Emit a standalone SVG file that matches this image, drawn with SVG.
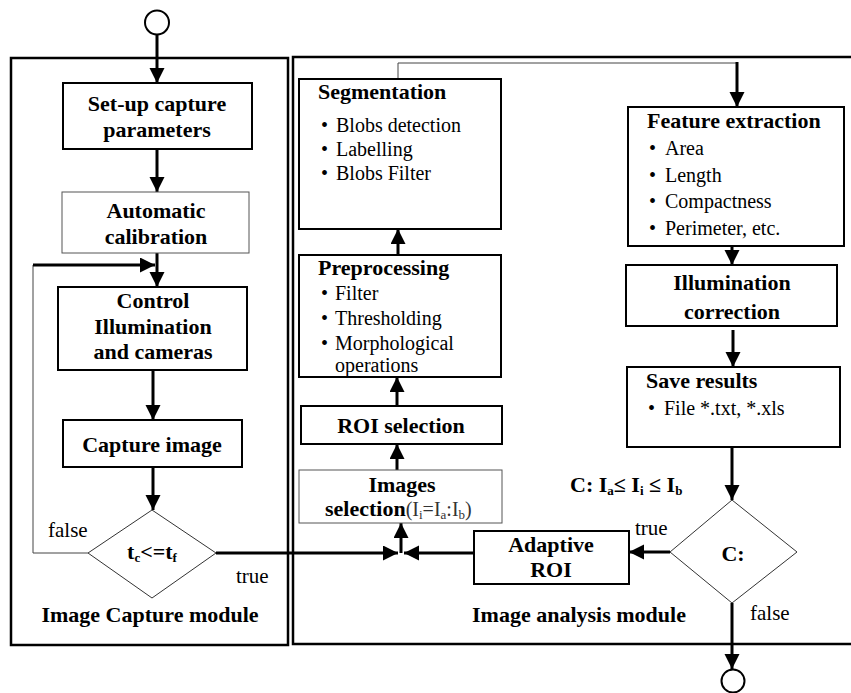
<svg xmlns="http://www.w3.org/2000/svg" width="851" height="693" viewBox="0 0 851 693" font-family="'Liberation Serif', 'Times New Roman', 'DejaVu Serif', serif">
<defs>
<style>
text{font-family:'Liberation Serif','Times New Roman','DejaVu Serif',serif}
.b{font-weight:bold;font-size:22px;fill:#000}
.r{font-size:20px;fill:#000}
.l{font-size:21px;fill:#000}
.c{text-anchor:middle}
.box{fill:#fff;stroke:#000;stroke-width:2}
.thin{fill:#fff;stroke:#555;stroke-width:1}
.mod{fill:none;stroke:#000;stroke-width:2.5}
.dia{fill:#fff;stroke:#333;stroke-width:1}
.ar{fill:none;stroke:#000;stroke-width:3;marker-end:url(#ah)}
.tl{fill:none;stroke:#444;stroke-width:1}
</style>
<marker id="ah" markerUnits="userSpaceOnUse" markerWidth="16" markerHeight="16" refX="15" refY="7.5" orient="auto">
<path d="M0,0 L15,7.5 L0,15 z" fill="#000"/>
</marker>
</defs>
<rect width="851" height="693" fill="#fff"/>

<g id="module-capture">
<rect class="mod" x="11" y="58" width="277" height="587"/>
<text class="b c" x="150" y="622">Image Capture module</text>
</g>
<g id="module-analysis">
<rect class="mod" x="293" y="57" width="580" height="587"/>
<text class="b c" x="579" y="622">Image analysis module</text>
</g>

<g id="connectors">
<path class="ar" d="M157,35 L157,83"/>
<path class="ar" d="M157,149 L157,192"/>
<path class="ar" d="M157,253 L157,287"/>
<path class="tl" d="M88,553 L33,553 L33,265"/>
<path class="ar" d="M33,265 L155,265"/>
<path class="ar" d="M153,370 L153,420"/>
<path class="ar" d="M153,467 L153,510"/>
<path class="ar" d="M216,553 L398,553"/>
<path class="ar" d="M474,553 L404,553"/>
<path class="ar" d="M401,553 L401,523"/>
<path class="ar" d="M397,470 L397,444"/>
<path class="ar" d="M397,406 L397,377"/>
<path class="ar" d="M398,255 L398,229"/>
<path class="tl" d="M398,79 L398,63 L737,63"/>
<path class="ar" d="M737,62 L737,107"/>
<path class="ar" d="M732,238 L732,265"/>
<path class="ar" d="M733,330 L733,367"/>
<path class="ar" d="M732,447 L732,500"/>
<path class="ar" d="M670,552 L629,552"/>
<path class="ar" d="M732,603 L732,669"/>
</g>

<g id="start">
<circle cx="157" cy="22.5" r="12" fill="#fff" stroke="#000" stroke-width="2"/>
</g>
<g id="end">
<circle cx="733" cy="681" r="11.5" fill="#fff" stroke="#000" stroke-width="2"/>
</g>

<g id="setup">
<rect class="box" x="63" y="83" width="189" height="66"/>
<text class="b c" x="157" y="111">Set-up capture</text>
<text class="b c" x="157" y="137">parameters</text>
</g>

<g id="calibration">
<rect class="thin" x="62" y="192" width="187" height="61"/>
<text class="b c" x="156" y="218">Automatic</text>
<text class="b c" x="156" y="244">calibration</text>
</g>

<g id="control">
<rect class="box" x="58" y="287" width="189" height="83"/>
<text class="b c" x="153" y="308">Control</text>
<text class="b c" x="153" y="334">Illumination</text>
<text class="b c" x="153" y="359">and cameras</text>
</g>

<g id="capture">
<rect class="box" x="63" y="420" width="179" height="47"/>
<text class="b c" x="152" y="452">Capture image</text>
</g>

<g id="decision-time">
<polygon class="dia" points="152,510 216,553 152,598 88,553"/>
<text class="b c" x="152" y="559">t<tspan font-size="13" dy="3">c</tspan><tspan dy="-3">&lt;=t</tspan><tspan font-size="13" dy="3">f</tspan></text>
<text class="l" x="48" y="537">false</text>
<text class="l" x="236" y="583">true</text>
</g>

<g id="segmentation">
<rect class="box" x="299" y="79" width="202" height="150"/>
<text class="b" x="318" y="99">Segmentation</text>
<text class="r" x="321" y="132">•</text><text class="r" x="336" y="132">Blobs detection</text>
<text class="r" x="321" y="156">•</text><text class="r" x="336" y="156">Labelling</text>
<text class="r" x="321" y="180">•</text><text class="r" x="336" y="180">Blobs Filter</text>
</g>

<g id="preprocessing">
<rect class="box" x="299" y="255" width="202" height="122"/>
<text class="b" x="318" y="275">Preprocessing</text>
<text class="r" x="321" y="300">•</text><text class="r" x="335" y="300">Filter</text>
<text class="r" x="321" y="325">•</text><text class="r" x="335" y="325">Thresholding</text>
<text class="r" x="321" y="350">•</text><text class="r" x="335" y="350">Morphological</text>
<text class="r" x="335" y="372">operations</text>
</g>

<g id="roi-selection">
<rect class="box" x="301" y="406" width="201" height="38"/>
<text class="b c" x="401" y="433">ROI selection</text>
</g>

<g id="images-selection">
<rect class="thin" x="299" y="470" width="203" height="53"/>
<text class="b c" x="402" y="492">Images</text>
<text class="b" x="325" y="516">selection<tspan font-weight="normal" font-size="20" fill="#333">(I<tspan font-size="13" dy="3">i</tspan><tspan dy="-3">=I</tspan><tspan font-size="13" dy="3">a</tspan><tspan dy="-3">:I</tspan><tspan font-size="13" dy="3">b</tspan><tspan dy="-3">)</tspan></tspan></text>
</g>

<g id="adaptive-roi">
<rect class="box" x="474" y="531" width="155" height="53"/>
<text class="b c" x="551" y="552">Adaptive</text>
<text class="b c" x="551" y="577">ROI</text>
</g>

<g id="feature-extraction">
<rect class="box" x="628" y="107" width="216" height="139"/>
<text class="b" x="647" y="128">Feature extraction</text>
<text class="r" x="649" y="155">•</text><text class="r" x="665" y="155">Area</text>
<text class="r" x="649" y="182">•</text><text class="r" x="665" y="182">Length</text>
<text class="r" x="649" y="208">•</text><text class="r" x="665" y="208">Compactness</text>
<text class="r" x="649" y="235">•</text><text class="r" x="665" y="235">Perimeter, etc.</text>
</g>

<g id="illumination-correction">
<rect class="box" x="626" y="265" width="211" height="61"/>
<text class="b c" x="732" y="290">Illumination</text>
<text class="b c" x="732" y="319">correction</text>
</g>

<g id="save-results">
<rect class="box" x="627" y="367" width="213" height="80"/>
<text class="b" x="646" y="388">Save results</text>
<text class="r" x="648" y="415">•</text><text class="r" x="664" y="415">File *.txt, *.xls</text>
</g>

<g id="decision-c">
<text class="b" x="570" y="492">C: I<tspan font-size="13" dy="3">a</tspan><tspan dy="-3">≤ I</tspan><tspan font-size="13" dy="3">i</tspan><tspan dy="-3"> ≤ I</tspan><tspan font-size="13" dy="3">b</tspan></text>
<polygon class="dia" points="732,500 797,552 732,603 670,552"/>
<text class="b c" x="733" y="561">C:</text>
<text class="l" x="635" y="535">true</text>
<text class="l" x="750" y="620">false</text>
</g>
</svg>
